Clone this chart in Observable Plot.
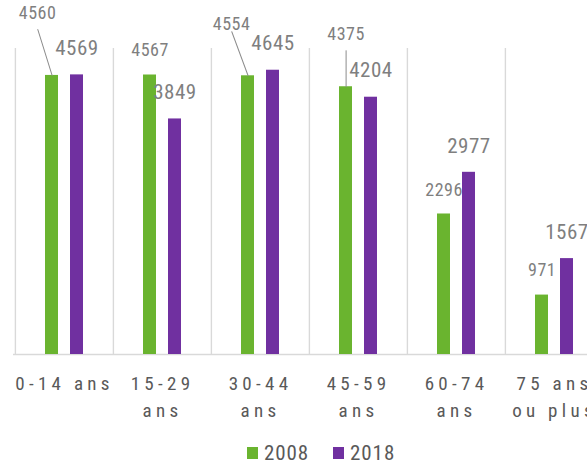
<!DOCTYPE html>
<html>
<head>
<meta charset="utf-8">
<script src="https://cdn.jsdelivr.net/npm/d3@7"></script>
<script src="https://cdn.jsdelivr.net/npm/@observablehq/plot@0.6"></script>
<style>
  html, body { margin: 0; padding: 0; background: #fff; overflow: hidden; width: 587px; height: 465px; }
  #wrap { position: relative; width: 587px; height: 465px; overflow: hidden; }
  #wrap svg g[aria-label="x-axis tick label"] text { letter-spacing: 4.3px; }
  #wrap svg g.vlab text { letter-spacing: 0.5px; }
  #legend { position: absolute; top: 441px; left: 247px; display: flex; align-items: center;
    font-family: "Liberation Sans Narrow", "Roboto Condensed", Roboto, sans-serif; font-size: 21px; color: #595959; letter-spacing: 0.9px; }
  #legend .sw { display: inline-block; width: 11px; height: 12px; margin-right: 6px; }
  #legend .item { display: flex; align-items: center; margin-right: 24px; }
</style>
</head>
<body>
<div id="wrap"></div>
<script>
const categories = ["0-14 ans", "15-29 ans", "30-44 ans", "45-59 ans", "60-74 ans", "75 ans ou plus"];
const tickLabels = ["0-14 ans", "15-29\nans", "30-44\nans", "45-59\nans", "60-74\nans", "75 ans\nou plus"];
const series = ["2008", "2018"];
const values2008 = [4560, 4567, 4554, 4375, 2296, 971];
const values2018 = [4569, 3849, 4645, 4204, 2977, 1567];

const green = "#6ab42f";
const purple = "#7030a0";
const font = '"Liberation Sans Narrow", "Roboto Condensed", Roboto, sans-serif';
const idx = d3.range(categories.length);

// label offsets (px) relative to bar top centre
const off2008 = [[-14.5, -61], [0, -23.5], [-16.5, -51], [0, -51.5], [0, -23], [0, -24]];
const leaders = {0: [48, -17.3], 2: [47, -20.3], 3: [36, 0]};
const line = {draw(ctx, l) { ctx.moveTo(0, 0); ctx.lineTo(0, -l); }};

const marks = [
  Plot.ruleX(categories, {x: d => d, dx: -49.1, y1: 0, y2: 5000, stroke: "#d9d9d9", strokeWidth: 1.4}),
  Plot.ruleX([categories[categories.length - 1]], {x: d => d, dx: 49.1, y1: 0, y2: 5000, stroke: "#d9d9d9", strokeWidth: 1.4}),
  Plot.ruleY([0], {stroke: "#d9d9d9", strokeWidth: 1.4, dx: -1}),
  Plot.barY(idx, {x: i => categories[i], y: i => values2008[i], insetLeft: 30, insetRight: 55, fill: green}),
  Plot.barY(idx, {x: i => categories[i], y: i => values2018[i], insetLeft: 55, insetRight: 30, fill: purple}),
  Plot.axisX({tickSize: 0, tickPadding: 17, tickFormat: d => tickLabels[categories.indexOf(d)],
    fontSize: 19, fill: "#595959", lineHeight: 1.4, fontFamily: font}),
];
idx.forEach(i => {
  marks.push(Plot.text([i], {x: i => categories[i], y: i => values2008[i], text: i => String(values2008[i]),
    dx: -12.4 + off2008[i][0], dy: off2008[i][1] - 1, lineAnchor: "middle", fontSize: 18, fill: "#7f7f7f", className: "vlab"}));
  marks.push(Plot.text([i], {x: i => categories[i], y: i => values2018[i], text: i => String(values2018[i]),
    dx: 12.4, dy: -26.5, lineAnchor: "middle", fontSize: 21, fill: "#7f7f7f", className: "vlab"}));
  if (leaders[i]) {
    marks.push(Plot.vector([i], {x: i => categories[i], y: i => values2008[i], dx: -12.4, anchor: "start",
      length: leaders[i][0], rotate: leaders[i][1], shape: line, stroke: "#8c8c8c", strokeWidth: 1}));
  }
});

const chart = Plot.plot({
  width: 587, height: 430,
  marginLeft: 14, marginRight: -16, marginTop: 48, marginBottom: 76,
  style: {fontFamily: font, background: "#fff", overflow: "hidden"},
  x: {domain: categories, padding: 0, axis: null},
  y: {domain: [0, 5000], axis: null},
  marks
});
document.getElementById("wrap").appendChild(chart);

const legend = document.createElement("div");
legend.id = "legend";
legend.innerHTML = series.map((s, i) =>
  `<span class="item"><span class="sw" style="background:${i ? purple : green}"></span>${s}</span>`).join("");
document.getElementById("wrap").appendChild(legend);
</script>
</body>
</html>
